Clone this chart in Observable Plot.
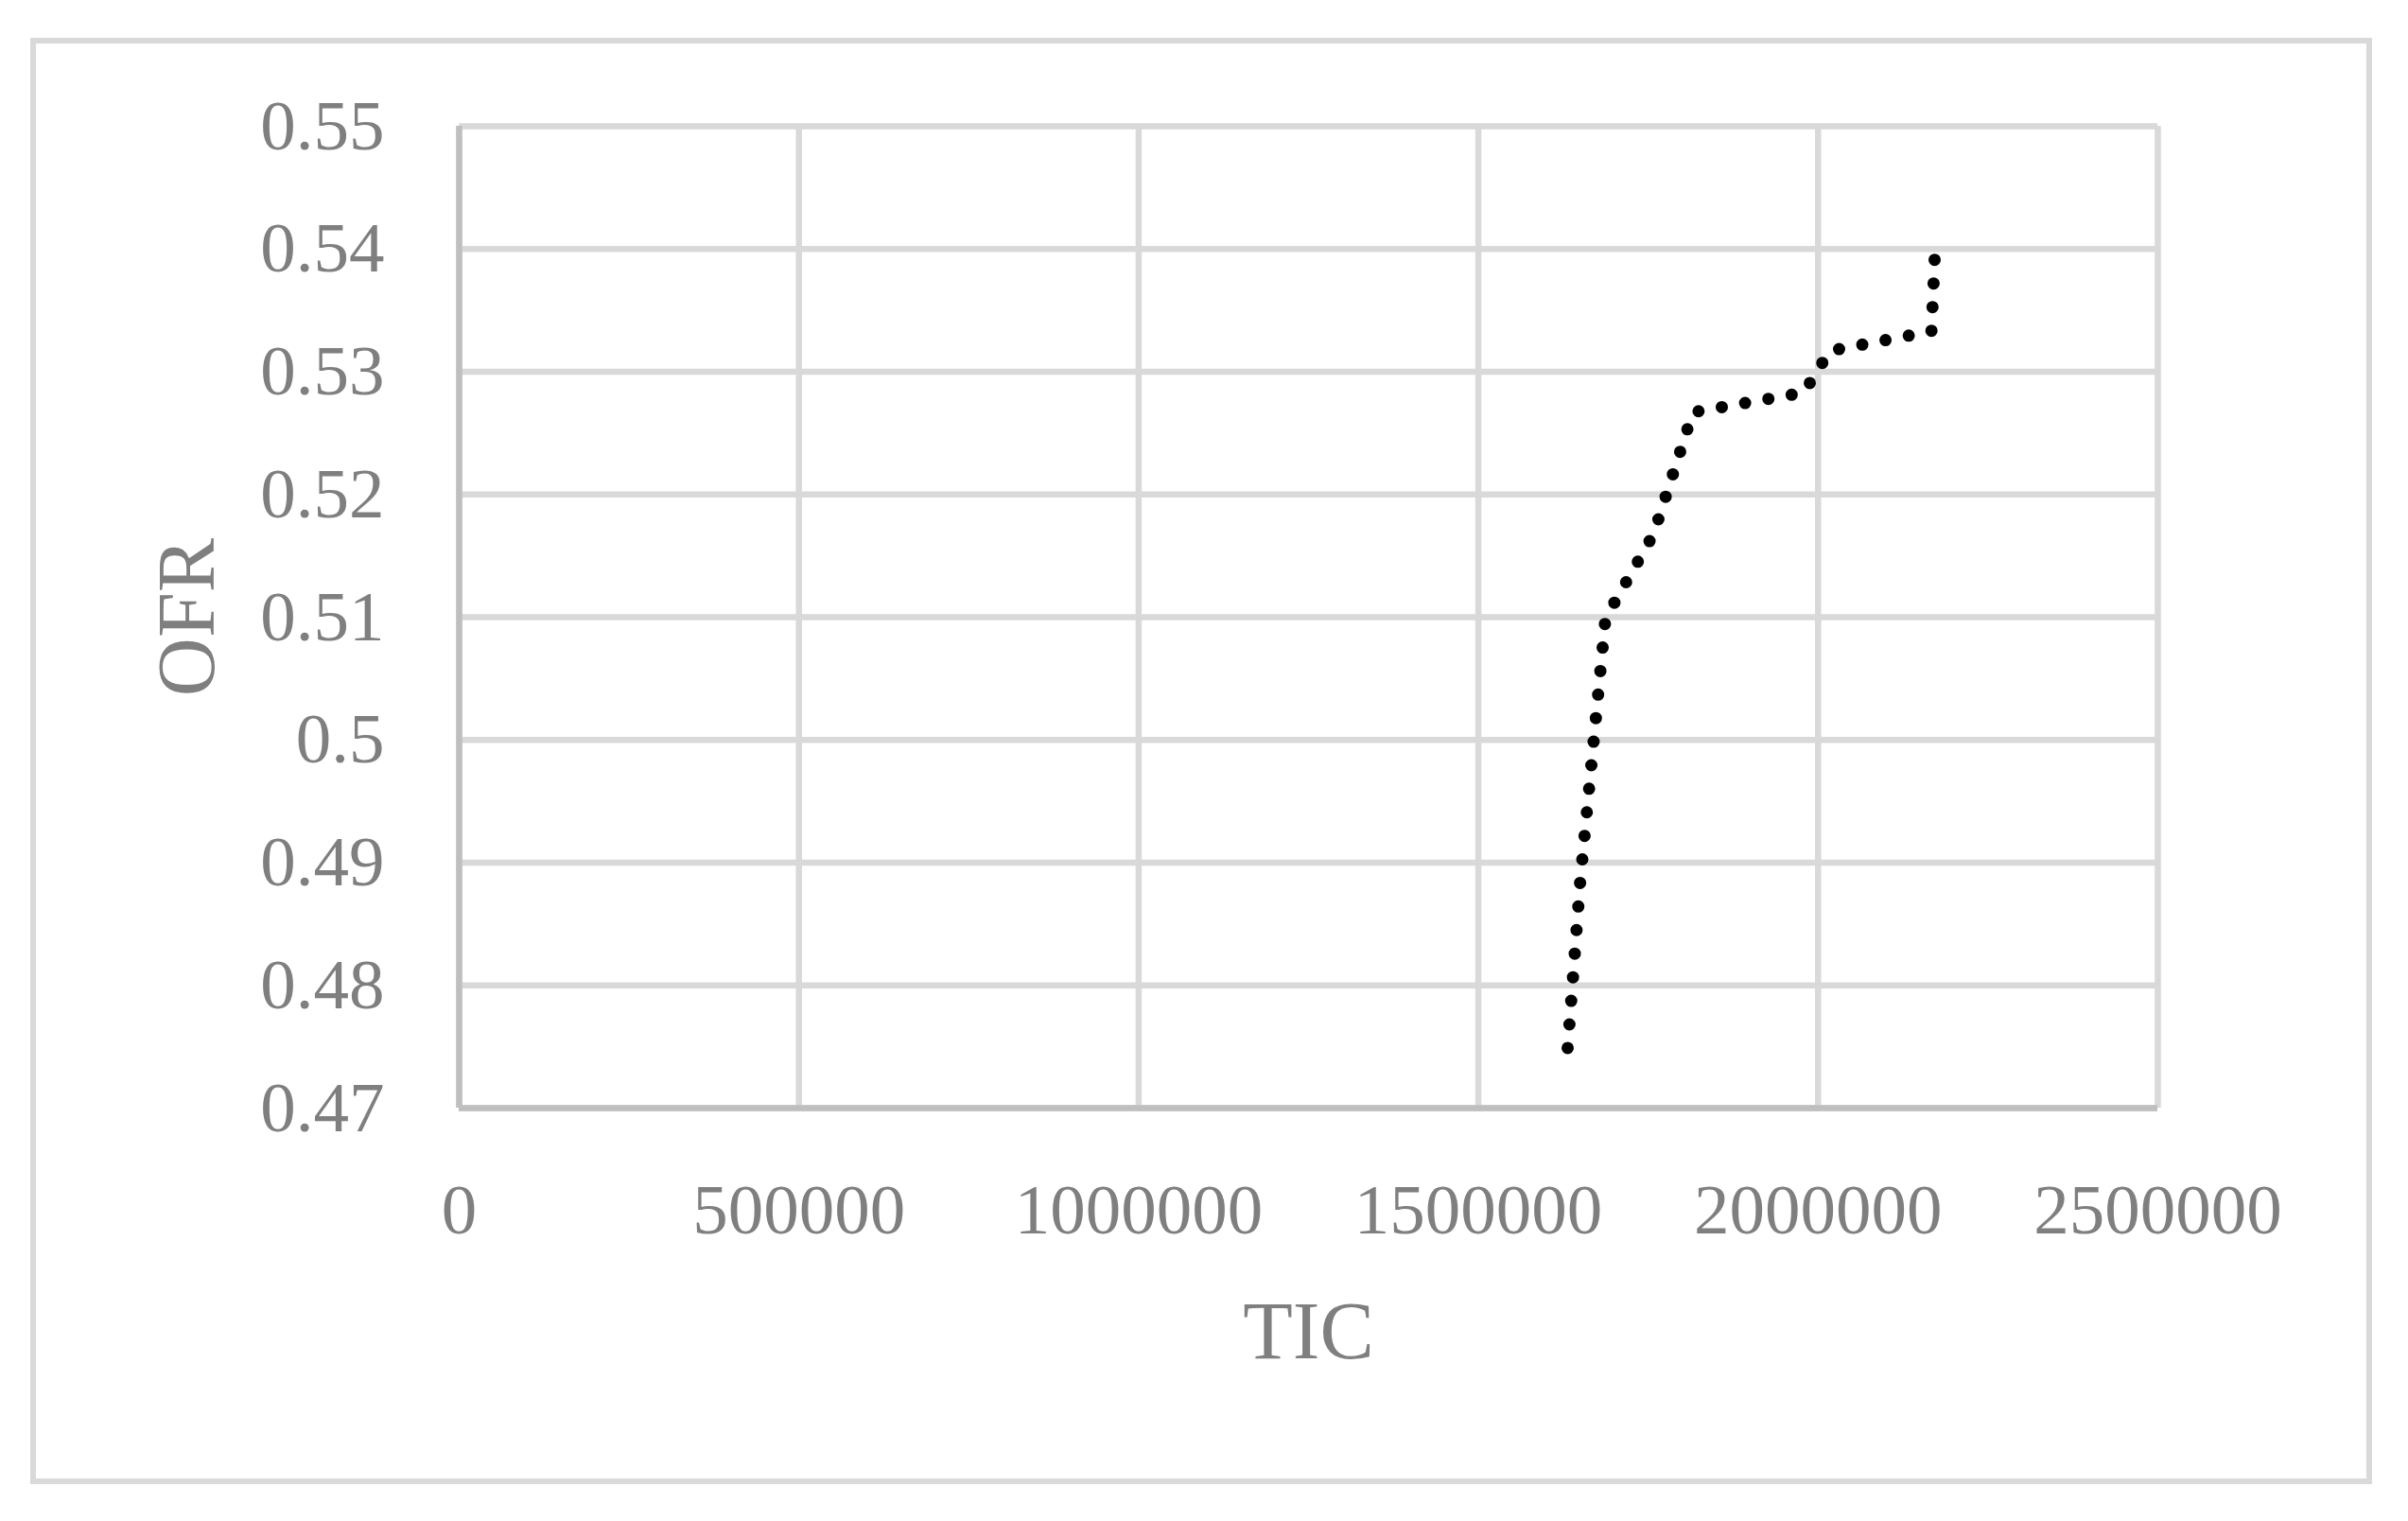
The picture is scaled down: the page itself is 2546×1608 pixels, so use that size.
<!DOCTYPE html>
<html><head><meta charset="utf-8">
<script src="https://cdn.jsdelivr.net/npm/d3@7"></script>
<script src="https://cdn.jsdelivr.net/npm/@observablehq/plot@0.6"></script>
<style>
html,body{margin:0;padding:0;background:#fff;}
#wrap{position:relative;width:2546px;height:1608px;overflow:hidden;background:#fff;}
#wrap svg{position:absolute;left:0;top:0;}
#border{position:absolute;left:32px;top:40px;width:2476px;height:1529px;box-sizing:border-box;border:6px solid #d9d9d9;pointer-events:none;}
</style></head><body>
<div id="wrap"><div id="border"></div></div>
<script>
// Data (TIC vs OFR, dotted line vertices)
const tic = [1631400, 1649900, 1687000, 1758100, 1815700, 1979000, 2017300, 2166800, 2171800];
const ofr = [0.4749, 0.4885, 0.5099, 0.5168, 0.5267, 0.5283, 0.5317, 0.5333, 0.5395];
const xTicks = [0, 500000, 1000000, 1500000, 2000000, 2500000];
const yTicks = [0.47, 0.48, 0.49, 0.5, 0.51, 0.52, 0.53, 0.54, 0.55];
const xTitle = "TIC";
const yTitle = "OFR";

const points = tic.map((t, i) => ({tic: t, ofr: ofr[i]}));

const chart = Plot.plot({
  width: 2546,
  height: 1608,
  marginLeft: 485,
  marginRight: 265,
  marginTop: 133,
  marginBottom: 437,
  style: {fontFamily: "'Liberation Serif', 'Times New Roman', serif", fontSize: "75px", color: "#7f7f7f", background: "transparent"},
  x: {domain: [0, 2500000], ticks: xTicks, label: null},
  y: {domain: [0.47, 0.55], ticks: yTicks, label: null},
  marks: [
    Plot.gridX(xTicks, {stroke: "#d9d9d9", strokeWidth: 6.5, strokeOpacity: 1}),
    Plot.gridY(yTicks, {stroke: "#d9d9d9", strokeWidth: 6.5, strokeOpacity: 1}),
    Plot.ruleX([0], {stroke: "#bfbfbf", strokeWidth: 6.5}),
    Plot.ruleY([0.47], {stroke: "#bfbfbf", strokeWidth: 6.5}),
    Plot.axisX(xTicks, {tickSize: 0, tickPadding: 79, tickFormat: d => String(d), label: null, fill: "#7f7f7f"}),
    Plot.axisY(yTicks, {tickSize: 0, tickPadding: 79, tickFormat: d => String(d), label: null, fill: "#7f7f7f"}),
    Plot.line(points, {x: "tic", y: "ofr", stroke: "black", strokeWidth: 13, strokeDasharray: "0 25", strokeLinecap: "round", strokeLinejoin: "round"}),
    Plot.text([xTitle], {frameAnchor: "bottom", textAnchor: "middle", lineAnchor: "middle", dy: 236.5, fontSize: 86, fill: "#7f7f7f"}),
    Plot.text([yTitle], {frameAnchor: "left", textAnchor: "middle", lineAnchor: "middle", dx: -287, rotate: -90, fontSize: 86, fill: "#7f7f7f"})
  ]
});
document.getElementById("wrap").prepend(chart);
</script>
</body></html>
